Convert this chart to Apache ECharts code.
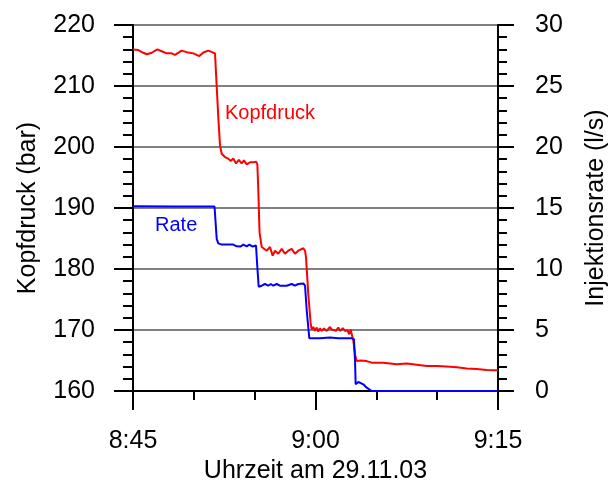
<!DOCTYPE html>
<html>
<head>
<meta charset="utf-8">
<script src="https://cdn.jsdelivr.net/npm/echarts@6/dist/echarts.min.js"></script>
<style>
  html, body { margin: 0; padding: 0; background: #fff; }
  #chart { width: 615px; height: 482px; }
</style>
</head>
<body>
<div id="chart"></div>
<script>
// Time axis in minutes after 8:00
const xTicks = ['8:45', '9:00', '9:15'];

// Kopfdruck (bar), left axis
const pressureTime = [
  45.00, 45.44, 45.85, 46.13, 46.54, 47.00, 47.36, 47.77, 48.18, 48.45,
  49.00, 49.41, 49.96, 50.45, 50.78, 51.19, 51.55, 51.74, 51.88, 52.01,
  52.15, 52.29, 52.56, 52.83, 53.03, 53.24, 53.47, 53.69, 53.93, 54.12,
  54.35, 54.62, 54.89, 55.11, 55.22, 55.30, 55.40, 55.58, 55.71, 55.99,
  56.26, 56.48, 56.67, 56.94, 57.22, 57.49, 57.76, 58.04, 58.31, 58.59,
  58.73, 59.00, 59.14, 59.22, 59.41, 59.61, 59.69, 59.82, 59.96, 60.10,
  60.23, 60.37, 60.51, 60.70, 60.92, 61.19, 61.33, 61.46, 61.68, 61.87,
  62.01, 62.24, 62.42, 62.61, 62.78, 62.89, 63.02, 63.11, 63.25, 63.39,
  63.66, 64.21, 64.62, 65.57, 66.67, 67.50, 68.32, 69.14, 69.96, 70.78,
  71.61, 72.43, 73.25, 74.07, 75.00
];
const pressureValue = [
  216.0, 215.9, 215.45, 215.2, 215.45, 216.0, 215.7, 215.35, 215.35, 215.1,
  215.8, 215.55, 215.35, 214.9, 215.5, 215.8, 215.5, 215.35, 209.9, 204.9,
  200.3, 198.9, 198.35, 198.1, 197.7, 198.1, 197.3, 197.9, 197.3, 197.8,
  197.15, 197.5, 197.5, 197.6, 197.15, 192.9, 186.0, 183.6, 183.3, 183.0,
  183.6, 182.2, 183.0, 182.5, 183.3, 182.5, 183.0, 183.3, 182.5, 183.0,
  183.3, 183.4, 183.0, 181.9, 175.8, 170.9, 170.1, 170.5, 169.85, 170.4,
  169.75, 170.3, 169.85, 170.25, 169.85, 170.5, 170.1, 170.4, 169.85, 170.4,
  169.85, 170.3, 169.85, 169.95, 169.3, 170.1, 169.95, 168.2, 166.0, 164.9,
  165.0, 164.9, 164.65, 164.65, 164.4, 164.5, 164.3, 164.1, 164.1, 164.0,
  163.9, 163.7, 163.6, 163.45, 163.4
];

// Injektionsrate (l/s), right axis
const rateTime = [
  45.00, 48.45, 48.53, 48.64, 49.68, 49.82, 49.96, 50.10, 50.24, 51.70,
  51.88, 52.01, 52.29, 53.24, 53.52, 53.65, 53.85, 54.07, 54.35, 54.56,
  54.84, 55.11, 55.22, 55.33, 55.58, 55.85, 56.12, 56.32, 56.53, 56.81,
  57.08, 57.63, 58.04, 58.31, 58.59, 58.73, 59.00, 59.14, 59.28, 59.49,
  60.37, 61.19, 61.33, 61.87, 62.01, 62.15, 62.97, 63.16, 63.25, 63.30,
  63.52, 63.93, 64.21, 64.62, 75.00
];
const rateValue = [
  15.15, 15.12, 15.26, 15.12, 15.12, 15.0, 15.12, 15.0, 15.12, 15.12,
  12.47, 12.1, 12.0, 12.0, 11.86, 12.0, 11.84, 12.0, 11.86, 12.0,
  11.84, 11.92, 10.14, 8.55, 8.63, 8.77, 8.63, 8.77, 8.63, 8.77,
  8.63, 8.63, 8.77, 8.63, 8.77, 8.71, 8.82, 8.63, 6.58, 4.33,
  4.33, 4.38, 4.44, 4.33, 4.44, 4.33, 4.33, 4.25, 2.47, 0.55,
  0.74, 0.55, 0.27, 0.0, 0.0
];

const pressureLabelAt = [52.56, 205.5];
const rateLabelAt = [46.81, 13.56];

const zip = (xs, ys) => xs.map((x, i) => [x, ys[i]]);
const fmtTime = v => {
  const h = 8 + Math.floor(v / 60);
  const m = Math.round(v % 60);
  return h + ':' + (m < 10 ? '0' + m : m);
};

const FONT = 'Liberation Sans, Arial, sans-serif';
const black = '#000';
const TICK_FONT = 25;
const NAME_FONT = 25;

const chart = echarts.init(document.getElementById('chart'), null, { renderer: 'canvas' });
chart.setOption({
  animation: false,
  backgroundColor: '#fff',
  grid: { left: 133, right: 117, top: 25, bottom: 91, containLabel: false, outerBoundsMode: 'none' },
  xAxis: {
    type: 'value', min: 45, max: 75, interval: 15,
    name: 'Uhrzeit am 29.11.03', nameLocation: 'middle', nameGap: 62,
    nameTextStyle: { fontFamily: FONT, fontSize: NAME_FONT, color: black },
    axisLine: { lineStyle: { color: black, width: 2 } },
    axisTick: { show: true, length: 19, lineStyle: { color: black, width: 2 } },
    minorTick: { show: true, splitNumber: 3, length: 9, lineStyle: { color: black, width: 2 } },
    splitLine: { show: false },
    axisLabel: {
      margin: 38, fontFamily: FONT, fontSize: TICK_FONT, color: black,
      formatter: v => xTicks[Math.round((v - 45) / 15)] || fmtTime(v)
    }
  },
  yAxis: [
    {
      type: 'value', position: 'left', min: 160, max: 220, interval: 10,
      name: 'Kopfdruck (bar)', nameLocation: 'middle', nameGap: 92,
      nameTextStyle: { fontFamily: FONT, fontSize: NAME_FONT, color: black },
      axisLine: { show: true, lineStyle: { color: black, width: 2 } },
      axisTick: { show: true, length: 19, lineStyle: { color: black, width: 2 } },
      minorTick: { show: true, splitNumber: 5, length: 10, lineStyle: { color: black, width: 2 } },
      splitLine: { show: true, lineStyle: { color: '#808080', width: 2 } },
      axisLabel: { margin: 38, fontFamily: FONT, fontSize: TICK_FONT, color: black }
    },
    {
      type: 'value', position: 'right', min: 0, max: 30, interval: 5,
      name: 'Injektionsrate (l/s)', nameLocation: 'middle', nameGap: 86,
      nameTextStyle: { fontFamily: FONT, fontSize: NAME_FONT, color: black },
      axisLine: { show: true, lineStyle: { color: black, width: 2 } },
      axisTick: { show: true, length: 16, lineStyle: { color: black, width: 2 } },
      minorTick: { show: true, splitNumber: 5, length: 9, lineStyle: { color: black, width: 2 } },
      splitLine: { show: false },
      axisLabel: { margin: 37, fontFamily: FONT, fontSize: TICK_FONT, color: black }
    }
  ],
  series: [
    {
      name: 'Kopfdruck', type: 'line', yAxisIndex: 0, showSymbol: false, clip: false,
      data: zip(pressureTime, pressureValue),
      lineStyle: { color: '#ff0000', width: 2 },
      markPoint: {
        symbol: 'circle', symbolSize: 0,
        data: [{ coord: pressureLabelAt }],
        label: { show: true, position: 'right', distance: 0, formatter: 'Kopfdruck',
                 fontFamily: FONT, fontSize: 20, color: '#ff0000' }
      }
    },
    {
      name: 'Rate', type: 'line', yAxisIndex: 1, showSymbol: false, clip: false,
      data: zip(rateTime, rateValue),
      lineStyle: { color: '#0000ff', width: 2 },
      markPoint: {
        symbol: 'circle', symbolSize: 0,
        data: [{ coord: rateLabelAt }],
        label: { show: true, position: 'right', distance: 0, formatter: 'Rate',
                 fontFamily: FONT, fontSize: 20, color: '#0000ff' }
      }
    }
  ]
});
</script>
</body>
</html>
